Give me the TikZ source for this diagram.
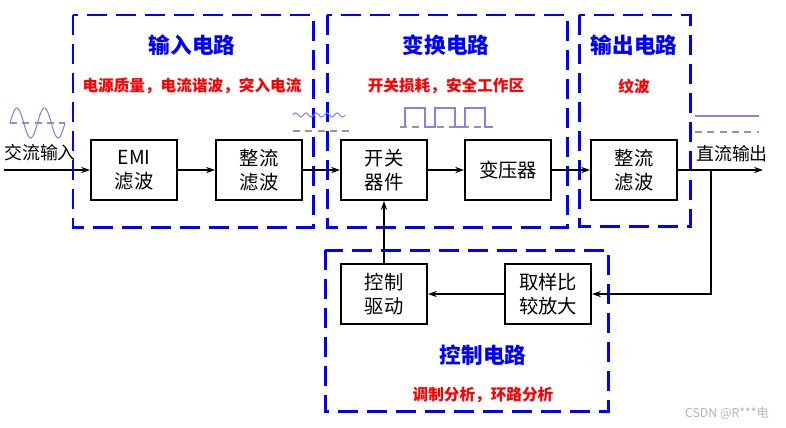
\documentclass[tikz,border=0pt]{standalone}
\usepackage{fontspec}
\setmainfont{Noto Sans CJK SC}
\usetikzlibrary{arrows.meta}
\definecolor{wavecol}{RGB}{130,130,235}
\definecolor{axiscol}{RGB}{150,150,150}

\begin{document}
\begin{tikzpicture}[x=0.02cm, y=-0.02cm,
    block/.style={draw, line width=1.1pt, minimum width=1.72cm, minimum height=1.2cm, inner sep=0pt, align=center, font=\fontsize{11}{13.6}\selectfont},
    zone/.style={draw=blue, line width=1.7pt, dash pattern=on 0.4cm off 0.18cm},
    title/.style={text=blue, font=\fontsize{12.3}{14}\selectfont\bfseries},
    note/.style={text=red, font=\fontsize{8.9}{11}\selectfont\bfseries},
    flow/.style={line width=0.8pt, -{Stealth[length=5pt,width=3.5pt]}},
    wave/.style={wavecol, line width=0.6pt},
    axis/.style={axiscol, line width=0.7pt, dash pattern=on 4pt off 3pt}]
    \useasboundingbox (0,0) rectangle (786,427);
    % circuit zones
    \draw[zone] (73,15) rectangle (313,227);
    \draw[zone] (327,15) rectangle (567,227);
    \draw[zone] (579,15) rectangle (690,226);
    \draw[zone] (325,250) rectangle (608,411);
    \node[title] (tin) at (192,45) {输入电路};
    \node[title] (tconv) at (446,45) {变换电路};
    \node[title] (tout) at (634,45) {输出电路};
    \node[title] (tctl) at (483,355) {控制电路};
    \node[note] (nin) at (192,86) {电源质量，电流谐波，突入电流};
    \node[note] (nconv) at (446,86) {开关损耗，安全工作区};
    \node[note] (nout) at (634,86) {纹波};
    \node[note] (nctl) at (483,395) {调制分析，环路分析};
    % blocks
    \node[block] (emi) at (134,170) {EMI\\滤波};
    \node[block] (rect) at (259,170) {整流\\滤波};
    \node[block] (switch) at (384,170) {开关\\器件};
    \node[block] (trans) at (508,170) {变压器};
    \node[block] (outflt) at (634,170) {整流\\滤波};
    \node[block] (drive) at (384,294) {控制\\驱动};
    \node[block] (sample) at (548,294) {取样比\\较放大};
    \node[font=\fontsize{10.2}{12}\selectfont] (acl) at (40,153) {交流输入};
    \node[font=\fontsize{10.2}{12}\selectfont] (dcl) at (732,154) {直流输出};
    \coordinate (acin) at (4,170);
    \coordinate (dcout) at (763,170);
    \coordinate (tap) at (711,170);
    % connectors
    \draw[flow] (acin) -- (emi);
    \draw[flow] (emi) -- (rect);
    \draw[flow] (rect) -- (switch);
    \draw[flow] (switch) -- (trans);
    \draw[flow] (trans) -- (outflt);
    \draw[flow] (outflt) -- (dcout);
    \draw[flow] (tap) |- (sample.east);
    \draw[flow] (sample) -- (drive);
    \draw[flow] (drive) -- (switch);
    % waveforms
    \draw[axis] (10,123) -- (65,123);
    \draw[wave] plot[domain=10:65, samples=80, smooth] (\x, {123-15*sin(720*((\x-10)/55))});
    \draw[axis] (293,131) -- (353,131);
    \draw[wave] plot[domain=293:345, samples=80, smooth] (\x, {115-2*sin(1800*((\x-293)/52))});
    \draw[axis] (400,127) -- (495,127);
    \draw[wave] (405,127) -- (405,108) -- (425,108) -- (425,127) -- (435,127) -- (435,108)
        -- (455,108) -- (455,127) -- (465,127) -- (465,108) -- (485,108) -- (485,127) -- (492,127);
    \draw[wave] (695,116) -- (759,116);
    \draw[axis] (695,132) -- (759,132);
    \node[text=axiscol!70, font=\fontsize{7}{8}\selectfont] (mark) at (727,413) {CSDN @R***电};
\end{tikzpicture}
\end{document}
